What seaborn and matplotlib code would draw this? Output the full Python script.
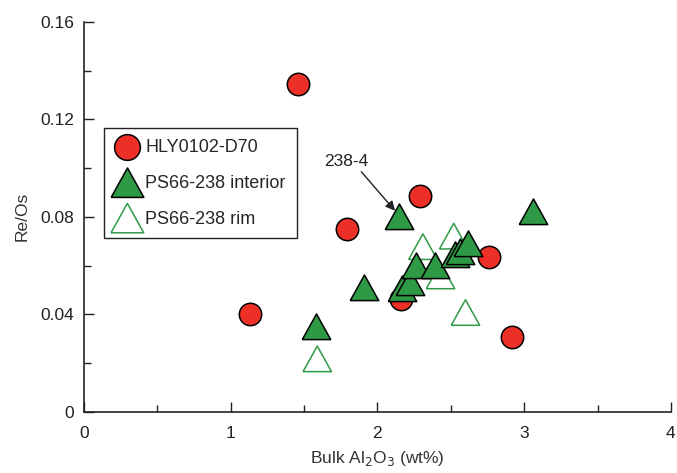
import pandas as pd
import matplotlib.pyplot as plt
import seaborn as sns
from matplotlib.ticker import MultipleLocator, FuncFormatter

sns.set_style('ticks')
plt.rcParams['font.family'] = ['Liberation Sans', 'DejaVu Sans']

# Data
hly_al = [1.46, 1.79, 1.13, 2.29, 2.16, 2.76, 2.92]
hly_reos = [0.1346, 0.0751, 0.0400, 0.0885, 0.0462, 0.0636, 0.0306]

int_al = [2.15, 3.06, 1.58, 1.91, 2.17, 2.22, 2.26, 2.39, 2.53, 2.56, 2.62]
int_reos = [0.0800, 0.0820, 0.0350, 0.0510, 0.0505, 0.0530, 0.0600, 0.0600, 0.0645, 0.0655, 0.0690]

rim_al = [1.59, 2.31, 2.52, 2.43, 2.60]
rim_reos = [0.0215, 0.0675, 0.0718, 0.0555, 0.0405]

hly = pd.DataFrame({'al': hly_al, 'reos': hly_reos})
inner = pd.DataFrame({'al': int_al, 'reos': int_reos})
rim = pd.DataFrame({'al': rim_al, 'reos': rim_reos})

red = '#ec3027'
green = '#2f9a45'
tri = [(-1, -0.85), (1, -0.85), (0, 0.95), (-1, -0.85)]

fig = plt.figure(figsize=(6.77, 4.73), dpi=100)
ax = fig.add_axes([0.124, 0.129, 0.867, 0.825])

sns.scatterplot(data=hly, x='al', y='reos', ax=ax, marker='o', s=260,
                color=red, edgecolor='black', linewidth=1.1, label='HLY0102-D70', zorder=3)
sns.scatterplot(data=rim, x='al', y='reos', ax=ax, marker=tri, s=420,
                facecolor='none', edgecolor=green, linewidth=1.1, label='PS66-238 rim', zorder=3)
sns.scatterplot(data=inner, x='al', y='reos', ax=ax, marker=tri, s=420,
                color=green, edgecolor='black', linewidth=1.1, label='PS66-238 interior', zorder=4)

ax.set_xlim(0, 4)
ax.set_ylim(0, 0.16)
ax.xaxis.set_major_locator(MultipleLocator(1))
ax.xaxis.set_minor_locator(MultipleLocator(0.5))
ax.yaxis.set_major_locator(MultipleLocator(0.04))
ax.yaxis.set_minor_locator(MultipleLocator(0.02))
ax.yaxis.set_major_formatter(FuncFormatter(lambda v, p: '0' if abs(v) < 1e-9 else f'{v:.2f}'))
ax.tick_params(which='major', direction='in', length=7, width=1, labelsize=12.5,
               color='#222222', labelcolor='#222222')
ax.tick_params(which='minor', direction='in', length=5, width=1, color='#222222')
ax.tick_params(axis='x', pad=10)
ax.tick_params(axis='y', pad=7)
sns.despine(ax=ax)
for sp in ['left', 'bottom']:
    ax.spines[sp].set_linewidth(1.2)
    ax.spines[sp].set_color('#222222')

ax.set_xlabel('Bulk Al$_2$O$_3$ (wt%)', fontsize=12.5, color='#333333', labelpad=6)
ax.set_ylabel('Re/Os', fontsize=12.5, color='#333333', labelpad=8)

# legend in order of the original
handles, labels = ax.get_legend_handles_labels()
order = [labels.index('HLY0102-D70'), labels.index('PS66-238 interior'), labels.index('PS66-238 rim')]
leg = ax.legend([handles[i] for i in order], [labels[i] for i in order],
                loc='upper left', bbox_to_anchor=(0.034, 0.728), borderaxespad=0,
                fontsize=13, frameon=True, fancybox=False, framealpha=1,
                edgecolor='#222222', handletextpad=0.3, borderpad=0.6,
                labelspacing=1.05, handlelength=1.4, markerscale=1.15)
leg.get_frame().set_linewidth(1.0)

ax.text(1.785, 0.1026, '238-4', fontsize=12.5, ha='center', va='center', color='#222222')
ax.annotate('', xy=(2.12, 0.0825), xytext=(1.89, 0.0985),
            arrowprops=dict(arrowstyle='-|>', color='#222222', lw=1.0,
                            mutation_scale=14, shrinkA=0, shrinkB=0))

plt.savefig('out.png', dpi=100)
